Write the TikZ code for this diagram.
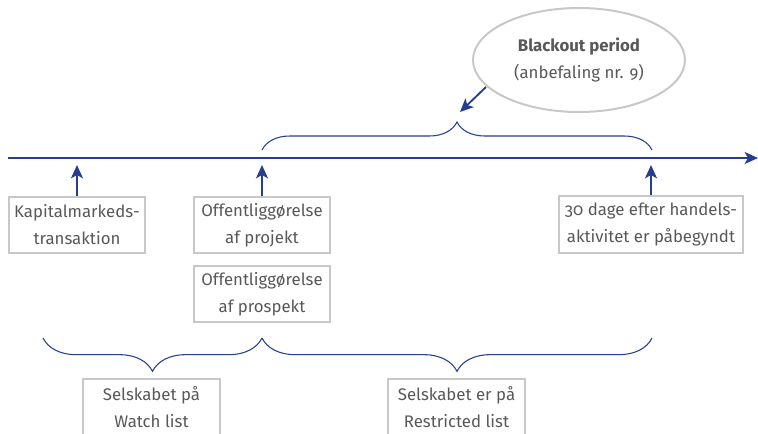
\documentclass[tikz,border=0pt]{standalone}
\usepackage{fontspec}
\setmainfont{Fira Sans}[Numbers=OldStyle]
\usetikzlibrary{arrows.meta,decorations.pathreplacing,shapes.geometric}
\definecolor{navy}{RGB}{38,62,145}
\definecolor{txt}{RGB}{88,88,88}
\definecolor{boxline}{RGB}{200,200,200}
\tikzset{
  every node/.style={font=\fontsize{12.6pt}{20.3pt}\selectfont, text=txt},
  infobox/.style={draw=boxline, line width=1.5pt, align=center, inner sep=0pt},
  arr/.style={navy, line width=1.6pt, -{Stealth[length=10pt,width=9pt,inset=2.5pt]}},
  bracel/.style={navy, line width=0.8pt, decorate, decoration={brace, amplitude=#1}},
}
\begin{document}
\begin{tikzpicture}[x=0.75pt, y=-0.75pt]
\clip (0,0) rectangle (758,433);
% timeline
\coordinate (tl0) at (8,158);
\coordinate (tl1) at (758,158);
\draw[arr] (tl0) -- (tl1);
% boxes
\node[infobox, minimum width=136*0.75pt, minimum height=56*0.75pt] (b1) at (77,225) {Kapitalmarkeds-\\transaktion};
\node[infobox, minimum width=136*0.75pt, minimum height=56*0.75pt] (b2) at (262,225) {Offentliggørelse\\af projekt};
\node[infobox, minimum width=136*0.75pt, minimum height=56*0.75pt] (b3) at (262,294) {Offentliggørelse\\af prospekt};
\node[infobox, minimum width=184*0.75pt, minimum height=57*0.75pt] (b4) at (651,224.5) {30 dage efter handels-\\aktivitet er påbegyndt};
\node[infobox, minimum width=137*0.75pt, minimum height=56*0.75pt] (b5) at (151.5,407) {Selskabet på\\Watch list};
\node[infobox, minimum width=137*0.75pt, minimum height=56*0.75pt] (b6) at (456.5,407) {Selskabet er på\\Restricted list};
% arrows up
\coordinate (t1) at (77,165);
\coordinate (t2) at (262,165);
\coordinate (t4) at (651,165);
\draw[arr] (b1.north) -- (t1);
\draw[arr] (b2.north) -- (t2);
\draw[arr] (b4.north) -- (t4);
% ellipse
\node[ellipse, draw=boxline, line width=1.5pt, minimum width=212*0.75pt, minimum height=104*0.75pt, align=center] (ell) at (579,60) {\textbf{Blackout period}\\(anbefaling nr. 9)};
\coordinate (e1) at (486,87);
\coordinate (e2) at (460,112);
\draw[arr, line width=1.4pt] (e1) -- (e2);
% braces
\coordinate (ba) at (262,150);
\coordinate (bb) at (652,150);
\draw[bracel=21pt] (ba) -- (bb);
\coordinate (c1) at (43,338);
\coordinate (c2) at (262,338);
\coordinate (c3) at (652,338);
\draw[bracel=25pt] (c2) -- (c1);
\draw[bracel=25pt] (c3) -- (c2);
\end{tikzpicture}
\end{document}
